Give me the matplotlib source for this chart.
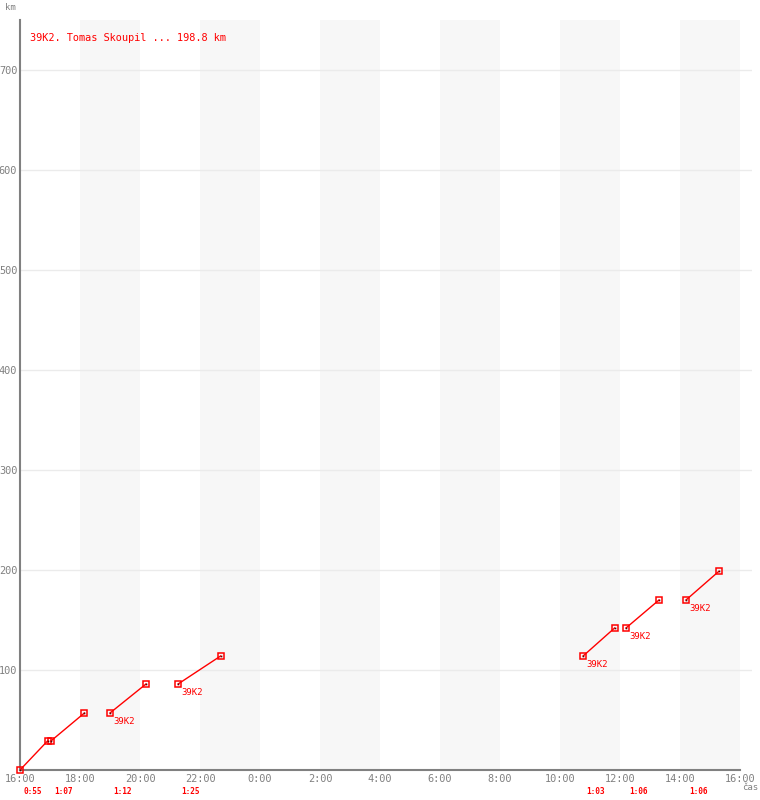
import matplotlib
matplotlib.use('Agg')
from matplotlib import pyplot as plt

# legs of the route, hours counted from 16:00
leg_start = [0.0, 1.03, 3.0, 5.27, 18.77, 20.2, 22.2]
leg_minutes = [55, 67, 72, 85, 63, 66, 66]
km_from = [0, 29, 57, 86, 114, 142, 170]
km_to = [29, 57, 86, 114, 142, 170, 198.8]
leg_label = ['', '', '39K2', '39K2', '39K2', '39K2', '39K2']
dur_text = ['0:55', '1:07', '1:12', '1:25', '1:03', '1:06', '1:06']

x_ticks = list(range(0, 25, 2))
x_labels = ['16:00', '18:00', '20:00', '22:00', '0:00', '2:00', '4:00',
            '6:00', '8:00', '10:00', '12:00', '14:00', '16:00']
y_ticks = [100, 200, 300, 400, 500, 600, 700]
title = '39K2. Tomas Skoupil ... 198.8 km'

grey = '#808080'
red = '#ff0000'
mono = 'DejaVu Sans Mono'

fig = plt.figure(figsize=(7.6, 8), dpi=100)
ax = fig.add_axes([20/760, 30/800, 732/760, 750/800])
ax.set_xlim(0, 24.4)
ax.set_ylim(0, 750)

# shaded bands every other 2 hours
for b in range(2, 24, 4):
    ax.axvspan(b, b + 2, color='#f7f7f7', lw=0, zorder=0)
for y in y_ticks:
    ax.axhline(y, color='#ebebeb', lw=1, zorder=1)

for s, m, k0, k1, lab, dt in zip(leg_start, leg_minutes, km_from, km_to, leg_label, dur_text):
    e = s + m / 60
    ax.plot([s, e], [k0, k1], color=red, lw=1, zorder=3)
    ax.plot([s, e], [k0, k1], ls='none', marker='s', ms=5, mfc='none', mec=red, mew=1.1,
            zorder=4, clip_on=False)
    ax.plot([s, e], [k0, k1], ls='none', marker='s', ms=1.2, mfc='#600000', mec='none',
            zorder=5, clip_on=False)
    if lab:
        ax.annotate(lab, (s, k0), xytext=(3, -4), textcoords='offset pixels',
                    ha='left', va='top', color=red, fontsize=6.5, family=mono)
    ax.annotate(dt, (s, 0), xytext=(3, -17), textcoords='offset pixels',
                ha='left', va='top', color=red, fontsize=5.6, family=mono,
                fontweight='bold', annotation_clip=False)

for sp in ['top', 'right']:
    ax.spines[sp].set_visible(False)
ax.spines['left'].set_color(grey)
ax.spines['bottom'].set_color(grey)
ax.spines['left'].set_linewidth(1.5)
ax.spines['bottom'].set_linewidth(1.5)
ax.spines['bottom'].set_bounds(0, 24)

ax.set_xticks(x_ticks)
ax.set_xticklabels(x_labels)
ax.set_yticks(y_ticks)
ax.tick_params(length=0, colors=grey, labelsize=7.4, pad=3)
for t in ax.get_xticklabels() + ax.get_yticklabels():
    t.set_family(mono)
ax.tick_params(axis='y', pad=2)

fig.text(5/760, 1 - 7/800, 'km', color=grey, fontsize=6.5, family=mono, va='center', ha='left')
fig.text(742/760, 1 - 788/800, 'čas', color=grey, fontsize=6.5, family=mono, va='center', ha='left')
ax.text(30/760, 1 - 38/800, title, transform=fig.transFigure, color=red,
        fontsize=7.4, family=mono, va='center', ha='left')

fig.savefig('out.png', dpi=100)
